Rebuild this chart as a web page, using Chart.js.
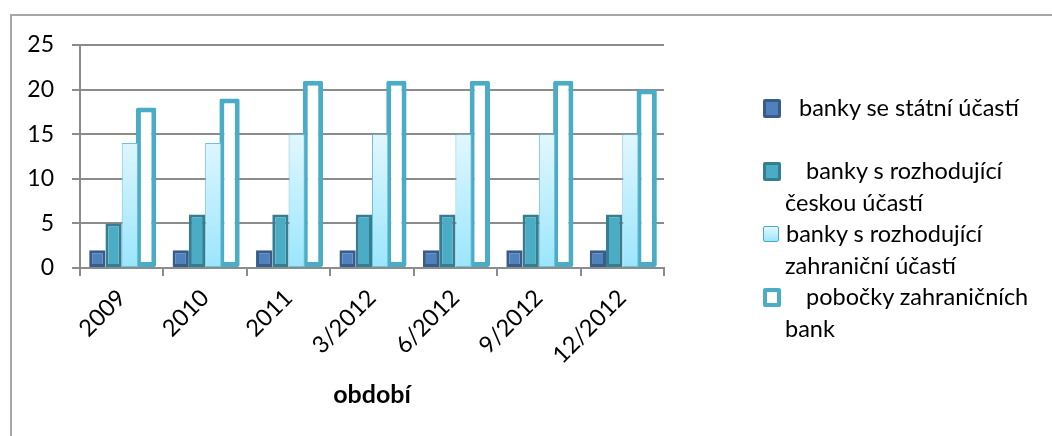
<!DOCTYPE html>
<html>
<head>
<meta charset="utf-8">
<script src="https://cdn.jsdelivr.net/npm/chart.js@4.4.1/dist/chart.umd.min.js"></script>
<style>
  body { margin: 0; background: #fff; }
  #wrap { position: relative; width: 1052px; height: 436px; overflow: hidden; font-family: Lato, "Open Sans", sans-serif; }
  #frame { position: absolute; left: 10px; top: 14px; width: 1200px; height: 600px;
           border-top: 2px solid #a6a6a6; border-left: 2px solid #a6a6a6; }
  #myChart { position: absolute; left: 0; top: 0; }
  #legend { position: absolute; left: 763px; top: 92px; font-size: 23.5px; color: #000; }
  .item { position: relative; }
  .line { height: 31.5px; line-height: 31.5px; white-space: nowrap; padding-left: 22px; }
  .mark { position: absolute; left: 0; box-sizing: border-box; border-radius: 2px; }
</style>
</head>
<body>
<div id="wrap">
  <div id="frame"></div>
  <canvas id="myChart" width="1052" height="436"></canvas>
  <div id="legend"></div>
</div>
<script>
// data
const periods = ['2009', '2010', '2011', '3/2012', '6/2012', '9/2012', '12/2012'];
const statni = [2, 2, 2, 2, 2, 2, 2];
const ceska = [5, 6, 6, 6, 6, 6, 6];
const zahranicni = [14, 14, 15, 15, 15, 15, 15];
const pobocky = [18, 19, 21, 21, 21, 21, 20];
const seriesNames = [
  ['banky se státní účastí', ''],
  ['banky s rozhodující', 'českou účastí'],
  ['banky s rozhodující', 'zahraniční účastí'],
  ['pobočky zahraničních', 'bank']
];
const yMin = 0;
const yMax = 25;
const yStep = 5;
const xTitle = 'období';

const gridColor = '#8c8c8c';
const font = 'Lato';

// light gradient for the third series
function lightFill(ctx) {
  const chart = ctx.chart;
  const y = chart.scales.y;
  const fallback = '#c8f0fd';
  if (!y || !chart.chartArea) return fallback;
  const top = y.getPixelForValue(15);
  const bottom = y.getPixelForValue(0);
  if (!Number.isFinite(top) || !Number.isFinite(bottom)) return fallback;
  const g = chart.ctx.createLinearGradient(0, top, 0, bottom);
  g.addColorStop(0, '#e2f7fe');
  g.addColorStop(1, '#9ae6fd');
  return g;
}

const data = {
  labels: periods,
  datasets: [{
    label: seriesNames[0].join(' '),
    data: statni,
    backgroundColor: '#4f81bd',
    borderColor: '#385d8a',
    borderWidth: 3
  },
  {
    label: seriesNames[1].join(' '),
    data: ceska,
    backgroundColor: '#4bacc6',
    borderColor: '#357d91',
    borderWidth: 3
  },
  {
    label: seriesNames[2].join(' '),
    data: zahranicni,
    backgroundColor: lightFill,
    borderColor: '#6cc0d8',
    borderWidth: 1
  },
  {
    label: seriesNames[3].join(' '),
    data: pobocky,
    backgroundColor: '#ffffff',
    borderColor: '#4bacc6',
    borderWidth: 5,
    borderRadius: 2,
    barPercentage: 1.25
  }]
};

const config = {
  type: 'bar',
  data,
  options: {
    responsive: false,
    animation: false,
    datasets: {
      bar: {
        categoryPercentage: 0.78,
        barPercentage: 1,
        borderSkipped: false
      }
    },
    layout: { padding: { top: 45, right: 388, bottom: 0, left: 0 } },
    plugins: { legend: { display: false }, tooltip: { enabled: false } },
    scales: {
      x: {
        grid: { offset: true, drawOnChartArea: false, color: gridColor, lineWidth: 2, tickLength: 8 },
        border: { color: gridColor, width: 2 },
        ticks: { color: '#000', font: { family: font, size: 23.5 }, minRotation: 45, maxRotation: 45, padding: 8 },
        title: { display: true, text: xTitle, color: '#000', font: { family: font, size: 25, weight: 'bold' }, padding: { bottom: 26 } },
        afterFit: (scale) => { scale.height = 168; }
      },
      y: {
        min: yMin,
        max: yMax,
        ticks: { stepSize: yStep, color: '#000', font: { family: font, size: 23 }, padding: 18 },
        grid: { color: gridColor, lineWidth: 2, tickLength: 8 },
        border: { color: gridColor, width: 2 },
        afterFit: (scale) => { scale.width = 80; }
      }
    }
  }
};

const myChart = new Chart(document.getElementById('myChart').getContext('2d'), config);

// legend on the right, two text lines per item
const markStyles = [
  'top:7px;width:18px;height:19px;background:#4f81bd;border:3px solid #385d8a;',
  'top:7px;width:18px;height:19px;background:#4bacc6;border:3px solid #357d91;',
  'top:8px;width:16px;height:16px;background:linear-gradient(#e2f7fe,#9ae6fd);border:1px solid #4bacc6;',
  'top:7px;width:18px;height:19px;background:#fff;border:4px solid #4bacc6;'
];
const firstIndent = [36, 43, 23, 43];
const legend = document.getElementById('legend');
seriesNames.forEach((lines, i) => {
  const item = document.createElement('div');
  item.className = 'item';
  const mark = document.createElement('div');
  mark.className = 'mark';
  mark.style.cssText = markStyles[i];
  item.appendChild(mark);
  lines.forEach((t, j) => {
    const ln = document.createElement('div');
    ln.className = 'line';
    ln.textContent = t;
    if (j === 0) ln.style.paddingLeft = firstIndent[i] + 'px';
    item.appendChild(ln);
  });
  legend.appendChild(item);
});
</script>
</body>
</html>
